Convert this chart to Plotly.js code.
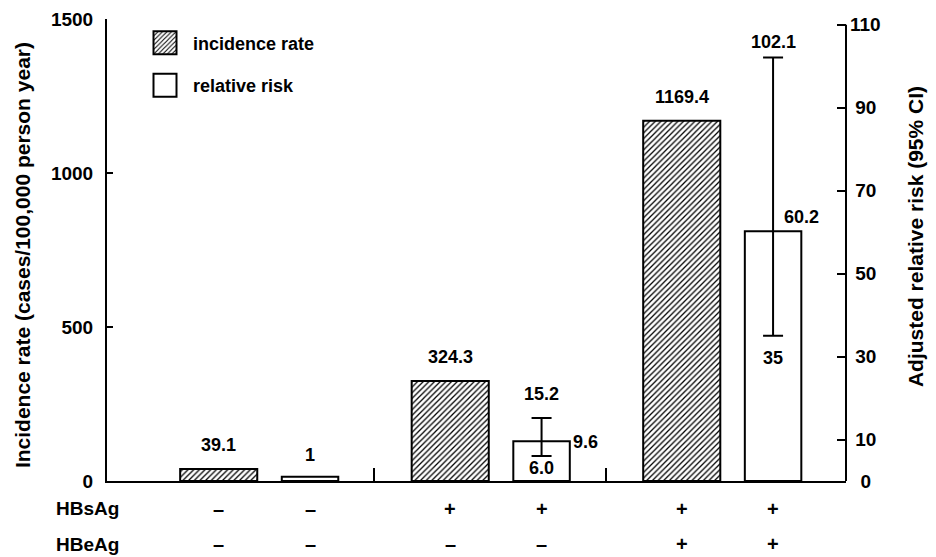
<!DOCTYPE html>
<html>
<head>
<meta charset="utf-8">
<script src="https://cdn.plot.ly/plotly-3.0.1.min.js"></script>
<style>
  html, body { margin: 0; padding: 0; background: #fff; }
  #chart { width: 936px; height: 557px; }
</style>
</head>
<body>
<div id="chart"></div>
<script>
// ---- data ----
const groups = ['HBsAg− HBeAg−', 'HBsAg+ HBeAg−', 'HBsAg+ HBeAg+'];
const hbsagSigns = ['–', '+', '+'];
const hbeagSigns = ['–', '–', '+'];
const incidence = [39.1, 324.3, 1169.4];
const incidenceLabels = ['39.1', '324.3', '1169.4'];
const relRisk = [1, 9.6, 60.2];
const relRiskLabels = ['1', '9.6', '60.2'];
const ciLow = [null, 6.0, 35];
const ciHigh = [null, 15.2, 102.1];
const ciLowLabels = ['', '6.0', '35'];
const ciHighLabels = ['', '15.2', '102.1'];
const leftTicks = [0, 500, 1000, 1500];
const rightTicks = [0, 10, 30, 50, 70, 90, 110];
const rowNames = ['HBsAg', 'HBeAg'];

// ---- styling / geometry (not data) ----
const FAM = 'Liberation Sans, Arial, Helvetica, sans-serif';
const FONT = {family: FAM, size: 18, color: '#000', weight: 'bold'};
const TICKFONT = {family: FAM, size: 19, color: '#000', weight: 'bold'};
const ROWFONT = {family: FAM, size: 19, color: '#000', weight: 'bold'};
const SIGNFONT = {family: FAM, size: 20, color: '#000', weight: 'bold'};
const TITLEFONT = {family: FAM, size: 21, color: '#000', weight: 'bold'};
const hatchOff = -0.362, hatchW = 0.333;
const whiteOff = 0.077, whiteW = 0.244;
const sepOff = 0.477;
const rrPlacement = ['top', 'right', 'corner'];
const ciHighShift = [0, 12, 4];
const ciLowShift = [0, 0, -10];

const gx = groups.map((g, i) => i);
const hatchCenter = gx.map(i => i + hatchOff + hatchW / 2);
const whiteCenter = gx.map(i => i + whiteOff + whiteW / 2);

const errPlus = relRisk.map((v, i) => ciHigh[i] == null ? NaN : ciHigh[i] - v);
const errMinus = relRisk.map((v, i) => ciLow[i] == null ? NaN : v - ciLow[i]);

const traceInc = {
  type: 'bar', name: 'incidence rate', x: gx, y: incidence, yaxis: 'y',
  offset: hatchOff, width: hatchW, legendgroup: 'a',
  marker: {color: '#fff', line: {color: '#000', width: 2},
           pattern: {shape: '/', fgcolor: '#000', bgcolor: '#fff', size: 4, solidity: 0.32}},
  hoverinfo: 'skip'
};
const traceRR = {
  type: 'bar', name: 'relative risk', x: gx, y: relRisk, yaxis: 'y2',
  offset: whiteOff, width: whiteW, legendgroup: 'b',
  marker: {color: '#fff', line: {color: '#000', width: 2}},
  error_y: {type: 'data', symmetric: false, array: errPlus, arrayminus: errMinus,
            color: '#000', thickness: 2, width: 10},
  hoverinfo: 'skip'
};

const ann = [];
incidence.forEach((v, i) => ann.push({xref: 'x', yref: 'y', x: hatchCenter[i], y: v,
  text: incidenceLabels[i], showarrow: false, xanchor: 'center', yanchor: 'bottom', yshift: 12, font: FONT}));
relRisk.forEach((v, i) => {
  const p = rrPlacement[i];
  if (p === 'top') {
    ann.push({xref: 'x', yref: 'y2', x: whiteCenter[i], y: v, text: relRiskLabels[i], showarrow: false,
      xanchor: 'center', yanchor: 'bottom', yshift: 10, font: FONT});
  } else if (p === 'right') {
    ann.push({xref: 'x', yref: 'y2', x: i + whiteOff + whiteW, y: v, text: relRiskLabels[i], showarrow: false,
      xanchor: 'left', yanchor: 'middle', xshift: 1, yshift: -1, font: FONT});
  } else {
    ann.push({xref: 'x', yref: 'y2', x: i + whiteOff + whiteW, y: v, text: relRiskLabels[i], showarrow: false,
      xanchor: 'center', yanchor: 'bottom', yshift: 2, font: FONT});
  }
});
ciHigh.forEach((v, i) => { if (v != null) ann.push({xref: 'x', yref: 'y2', x: whiteCenter[i], y: v,
  text: ciHighLabels[i], showarrow: false, xanchor: 'center', yanchor: 'bottom', yshift: ciHighShift[i], font: FONT}); });
ciLow.forEach((v, i) => { if (v != null) ann.push({xref: 'x', yref: 'y2', x: whiteCenter[i], y: v,
  text: ciLowLabels[i], showarrow: false, xanchor: 'center', yanchor: 'top', yshift: ciLowShift[i], font: FONT}); });
const rowY = [-0.0606, -0.1364];
[hbsagSigns, hbeagSigns].forEach((signs, r) => {
  ann.push({xref: 'paper', yref: 'paper', x: -0.0704, y: rowY[r], text: rowNames[r], showarrow: false,
    xanchor: 'left', yanchor: 'middle', borderpad: 0, font: ROWFONT});
  signs.forEach((s, i) => {
    [hatchCenter[i], whiteCenter[i]].forEach(cx => ann.push({xref: 'x', yref: 'paper', x: cx, y: rowY[r],
      text: s, showarrow: false, xanchor: 'center', yanchor: 'middle', borderpad: 0, font: SIGNFONT}));
  });
});
ann.push({xref: 'paper', yref: 'paper', x: -0.115, y: 0.489, textangle: -90, showarrow: false,
  text: 'Incidence rate (cases/100,000 person year)', xanchor: 'center', yanchor: 'middle', font: TITLEFONT});
ann.push({xref: 'paper', yref: 'paper', x: 1.0934, y: 0.528, textangle: -90, showarrow: false,
  text: 'Adjusted relative risk (95% CI)', xanchor: 'center', yanchor: 'middle', font: TITLEFONT});

const nb = '\u00a0';
const rightText = rightTicks.map(t => { const s = String(t); return nb.repeat((3 - s.length)) + s; });

const layout = {
  width: 936, height: 557,
  margin: {l: 107, r: 90, t: 19, b: 76, pad: 0},
  paper_bgcolor: '#fff', plot_bgcolor: '#fff',
  font: FONT,
  barmode: 'overlay',
  showlegend: true,
  legend: {x: (137 - 107) / 739, xanchor: 'left', y: 0.988, yanchor: 'top',
           font: FONT, itemwidth: 46, tracegroupgap: 16, traceorder: 'grouped',
           bgcolor: 'rgba(0,0,0,0)', borderwidth: 0},
  xaxis: {range: [-0.678, 2.514], showline: true, linecolor: '#000', linewidth: 2,
          ticks: 'inside', ticklen: 13, tickwidth: 2, tickcolor: '#000',
          tickvals: gx.slice(1).map(i => i - 1 + sepOff), showticklabels: false,
          showgrid: false, zeroline: false, fixedrange: true},
  yaxis: {range: [0, 1500], showline: true, linecolor: '#000', linewidth: 2,
          ticks: 'inside', ticklen: 6, tickwidth: 2, tickcolor: '#000',
          tickvals: leftTicks, ticktext: leftTicks.map(String), ticklabelstandoff: 8,
          showgrid: false, zeroline: false, tickfont: TICKFONT, fixedrange: true},
  yaxis2: {range: [0, 111.4], overlaying: 'y', side: 'right', showline: false,
           ticks: 'inside', ticklen: 9, tickwidth: 2, tickcolor: '#000',
           tickvals: rightTicks, ticktext: rightText, ticklabelstandoff: 3,
           showgrid: false, zeroline: false, tickfont: TICKFONT, fixedrange: true},
  shapes: [{type: 'line', xref: 'paper', yref: 'y2', x0: 1, x1: 1, y0: 0, y1: rightTicks[rightTicks.length - 1],
            line: {color: '#000', width: 2}}],
  annotations: ann
};

function growLegendSwatches() {
  document.querySelectorAll('#chart .legend .legendpoints path').forEach(p => {
    p.setAttribute('d', 'M11.5,11.5H-11.5V-11.5H11.5Z');
    p.style.strokeWidth = '2px';
    p.style.stroke = '#000';
  });
}
const gd = document.getElementById('chart');
const pr = Plotly.newPlot(gd, [traceInc, traceRR], layout, {staticPlot: true, displayModeBar: false});
growLegendSwatches();
pr.then(() => { growLegendSwatches(); setTimeout(growLegendSwatches, 50); setTimeout(growLegendSwatches, 300); });
gd.on && gd.on('plotly_afterplot', growLegendSwatches);
</script>
</body>
</html>
